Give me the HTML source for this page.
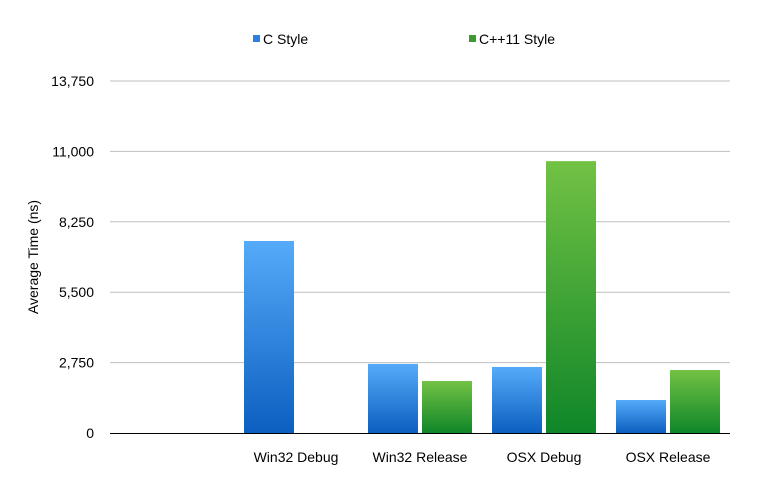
<!DOCTYPE html>
<html><head><meta charset="utf-8"><style>
html,body{margin:0;padding:0;background:#fff;width:765px;height:497px;overflow:hidden}
svg text{font-family:"Liberation Sans",Arial,sans-serif;fill:#000}
</style></head><body>
<svg id="chart" width="765" height="497" viewBox="0 0 765 497" xmlns="http://www.w3.org/2000/svg">
<defs>
<linearGradient id="gb" x1="0" y1="0" x2="0" y2="1"><stop offset="0" stop-color="#55abf9"/><stop offset="1" stop-color="#0b5fc0"/></linearGradient>
<linearGradient id="gg" x1="0" y1="0" x2="0" y2="1"><stop offset="0" stop-color="#72c244"/><stop offset="1" stop-color="#0f8628"/></linearGradient>
</defs>
<g id="grid"></g>
<g id="bars"></g>
<g id="axes"></g>
<text transform="translate(38,257) rotate(-90)" text-anchor="middle" font-size="14">Average Time (ns)</text>
<g>
<g><rect x="253" y="35" width="7" height="7" fill="#2f7fe0"/><text x="263" y="44" font-size="14">C Style</text></g>
<g><rect x="469" y="35" width="7" height="7" fill="#3c9a30"/><text x="479" y="44" font-size="14">C++11 Style</text></g>
</g>
</svg>
<script>
const categories = ["", "Win32 Debug", "Win32 Release", "OSX Debug", "OSX Release"];
const cStyle = [0, 7500, 2700, 2580, 1290];
const cppStyle = [0, 0, 2030, 10620, 2460];
const ticks = [0, 2750, 5500, 8250, 11000, 13750];
const tickLabels = ["0", "2,750", "5,500", "8,250", "11,000", "13,750"];

const NS = "http://www.w3.org/2000/svg";
const x0 = 110, x1 = 730, y0 = 433, yTop = 81, maxV = 13750;
const slot = (x1 - x0) / categories.length;
const y = v => y0 - (v / maxV) * (y0 - yTop);
const xc = i => x0 + slot * (i + 0.5);
function mk(tag, attrs, parent, txt) {
  const e = document.createElementNS(NS, tag);
  for (const k in attrs) e.setAttribute(k, attrs[k]);
  if (txt !== undefined) e.textContent = txt;
  parent.appendChild(e);
  return e;
}
const grid = document.getElementById("grid"), bars = document.getElementById("bars"), axes = document.getElementById("axes");
ticks.forEach((t, i) => {
  if (i > 0) {
    const l = mk("line", {x1: x0, x2: x1, y1: y(t), y2: y(t), stroke: "#bfbfbf", "stroke-width": 1}, grid);
    
    
  }
  const tx = mk("text", {x: 94, y: y(t) + 5, "text-anchor": "end", "font-size": 14}, axes, tickLabels[i]);
  
  
});
const ax = mk("line", {x1: x0, x2: x1, y1: y0 + 0.5, y2: y0 + 0.5, stroke: "#000", "stroke-width": 1}, axes);


const bw = 50, gap = 4;
categories.forEach((c, i) => {
  const cx = xc(i);
  if (cStyle[i] > 0) {
    const r = mk("rect", {x: cx - gap / 2 - bw, y: y(cStyle[i]), width: bw, height: y0 - y(cStyle[i]), fill: "url(#gb)"}, bars);
    
    
  }
  if (cppStyle[i] > 0) {
    const r = mk("rect", {x: cx + gap / 2, y: y(cppStyle[i]), width: bw, height: y0 - y(cppStyle[i]), fill: "url(#gg)"}, bars);
    
    
  }
  const t = mk("text", {x: cx, y: 462, "text-anchor": "middle", "font-size": 14}, axes, c);
  
  
});
</script>
</body></html>
